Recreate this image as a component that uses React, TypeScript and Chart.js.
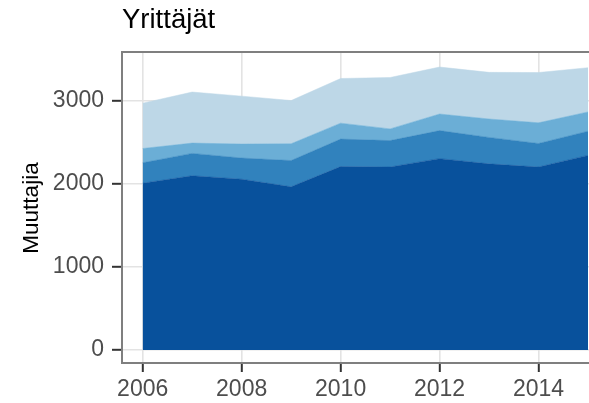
import React, { useEffect, useRef } from "react";
import { Chart, registerables } from "chart.js";

Chart.register(...registerables);

const years = [2006, 2007, 2008, 2009, 2010, 2011, 2012, 2013, 2014, 2015];
const series1 = [2007, 2097, 2055, 1964, 2207, 2202, 2303, 2240, 2202, 2342];
const series2 = [246, 269, 255, 316, 331, 318, 337, 318, 283, 291];
const series3 = [172, 124, 168, 202, 192, 141, 200, 222, 249, 232];
const series4 = [545, 614, 577, 520, 537, 618, 565, 561, 605, 532];
const seriesNames = ["Ryhmä 1", "Ryhmä 2", "Ryhmä 3", "Ryhmä 4"];
const seriesColors = ["#08519C", "#3182BD", "#6BAED6", "#BDD7E7"];
const xTicks = [2006, 2008, 2010, 2012, 2014];
const yTicks = [0, 1000, 2000, 3000];
const titleText = "Yrittäjät";
const yTitleText = "Muuttajia";

const FONT = "'Liberation Sans', Arial, sans-serif";

const overlayPlugin = {
  id: "overlay",
  afterDraw(chart: any) {
    const { ctx, chartArea } = chart;
    const { left, top, right, bottom } = chartArea;
    ctx.save();
    // panel border (top, left, bottom)
    ctx.strokeStyle = "#7F7F7F";
    ctx.lineWidth = 2;
    ctx.beginPath();
    ctx.moveTo(right + 2, top);
    ctx.lineTo(left, top);
    ctx.lineTo(left, bottom);
    ctx.lineTo(right + 2, bottom);
    ctx.stroke();
    // title
    ctx.fillStyle = "#000000";
    ctx.font = `27.5px ${FONT}`;
    ctx.textAlign = "left";
    ctx.textBaseline = "alphabetic";
    ctx.fillText(titleText, 122, 28);
    // y axis title
    ctx.translate(38, 208);
    ctx.rotate(-Math.PI / 2);
    ctx.font = `22.5px ${FONT}`;
    ctx.textAlign = "center";
    ctx.fillText(yTitleText, 0, 0);
    ctx.restore();
  },
};

export default function App() {
  const canvasRef = useRef<HTMLCanvasElement | null>(null);

  useEffect(() => {
    document.body.style.margin = "0";
    const canvas = canvasRef.current;
    if (!canvas) return;
    const all = [series1, series2, series3, series4];
    const chart = new Chart(canvas, {
      type: "line",
      data: {
        datasets: all.map((s, k) => ({
          label: seriesNames[k],
          data: years.map((yr, i) => ({ x: yr, y: s[i] })),
          backgroundColor: seriesColors[k],
          borderColor: seriesColors[k],
          borderWidth: 0.5,
          pointRadius: 0,
          tension: 0,
          fill: k === 0 ? "origin" : "-1",
        })),
      },
      options: {
        animation: false,
        responsive: false,
        maintainAspectRatio: false,
        layout: { padding: { top: 52, left: 0, right: 0, bottom: 0 } },
        plugins: {
          legend: { display: false },
          title: { display: false },
          tooltip: { enabled: false },
        },
        scales: {
          x: {
            type: "linear",
            min: 2005.582,
            max: 2015.02,
            afterFit: (scale: any) => {
              scale.height = 40;
            },
            afterBuildTicks: (scale: any) => {
              scale.ticks = xTicks.map((v) => ({ value: v }));
            },
            grid: {
              color: "#E3E3E3",
              lineWidth: 1.6,
              drawTicks: true,
              tickLength: 9,
              tickColor: "#333333",
              tickWidth: 2,
            },
            border: { display: false },
            ticks: {
              color: "#4D4D4D",
              font: { family: FONT, size: 23 },
              padding: 4,
              maxRotation: 0,
              autoSkip: false,
              callback: (v: any) => String(v),
            },
          },
          y: {
            type: "linear",
            stacked: true,
            min: -156,
            max: 3586,
            afterFit: (scale: any) => {
              scale.width = 122;
            },
            afterBuildTicks: (scale: any) => {
              scale.ticks = yTicks.map((v) => ({ value: v }));
            },
            grid: {
              color: "#E3E3E3",
              lineWidth: 1.6,
              drawTicks: true,
              tickLength: 10,
              tickColor: "#333333",
              tickWidth: 2,
            },
            border: { display: false },
            ticks: {
              color: "#4D4D4D",
              font: { family: FONT, size: 23 },
              padding: 8,
              autoSkip: false,
              callback: (v: any) => String(v),
            },
          },
        },
      },
      plugins: [overlayPlugin],
    });
    return () => {
      chart.destroy();
    };
  }, []);

  return (
    <div style={{ width: 589, height: 403, overflow: "hidden" }}>
      <canvas ref={canvasRef} width={589} height={403} style={{ display: "block" }} />
    </div>
  );
}
